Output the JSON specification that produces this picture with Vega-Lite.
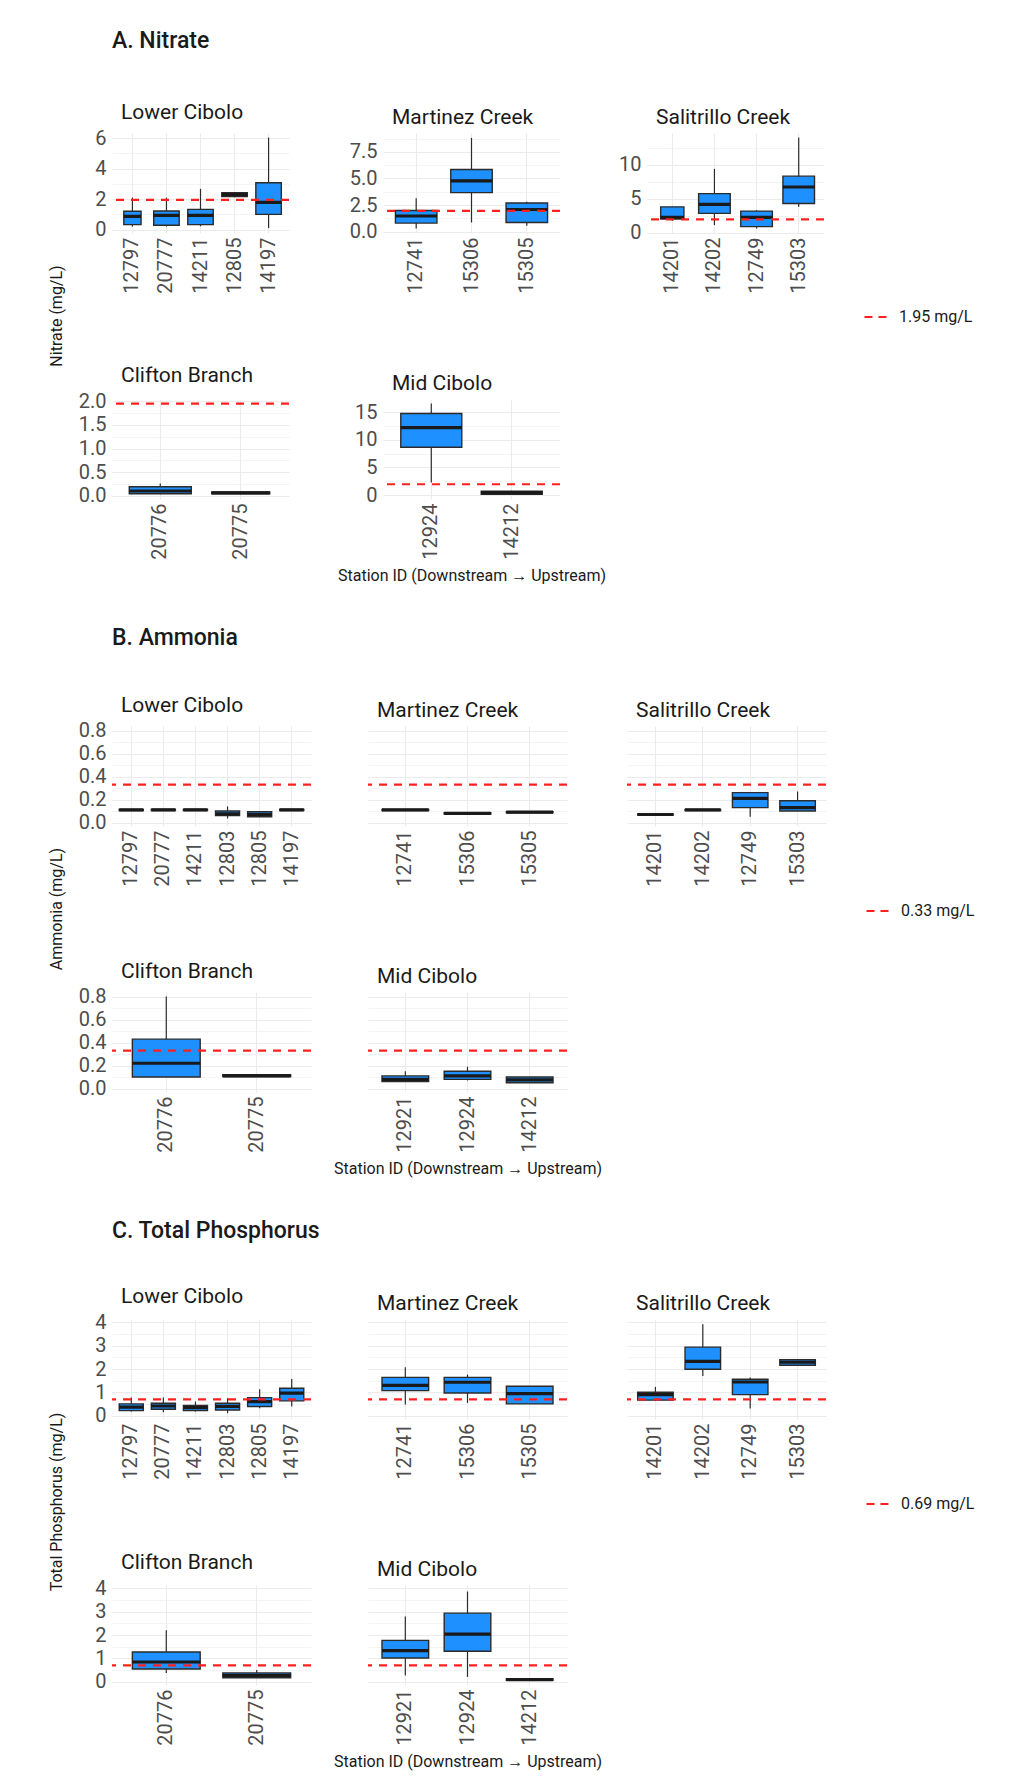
{
  "$schema": "https://vega.github.io/schema/vega-lite/v6.json",
  "background": "white",
  "padding": {"left": 48, "top": 30, "right": 10, "bottom": 0},
  "datasets": {
    "nitrate": [
      {"region": "Lower Cibolo", "station": "12797", "min": 0.2, "q1": 0.33, "median": 0.87, "q3": 1.2, "max": 2.1, "n": 11},
      {"region": "Lower Cibolo", "station": "20777", "min": 0.2, "q1": 0.29, "median": 0.93, "q3": 1.22, "max": 2.1, "n": 24},
      {"region": "Lower Cibolo", "station": "14211", "min": 0.22, "q1": 0.33, "median": 0.93, "q3": 1.33, "max": 2.67, "n": 24},
      {"region": "Lower Cibolo", "station": "12805", "min": 2.12, "q1": 2.16, "median": 2.3, "q3": 2.42, "max": 2.45, "n": 24},
      {"region": "Lower Cibolo", "station": "14197", "min": 0.1, "q1": 1.0, "median": 1.78, "q3": 3.07, "max": 6.03, "n": 24},
      {"region": "Martinez Creek", "station": "12741", "min": 0.3, "q1": 0.8, "median": 1.47, "q3": 1.99, "max": 3.15, "n": 24},
      {"region": "Martinez Creek", "station": "15306", "min": 0.86, "q1": 3.67, "median": 4.78, "q3": 5.85, "max": 8.82, "n": 24},
      {"region": "Martinez Creek", "station": "15305", "min": 0.55, "q1": 0.86, "median": 2.08, "q3": 2.69, "max": 2.8, "n": 24},
      {"region": "Salitrillo Creek", "station": "14201", "min": 1.75, "q1": 2.0, "median": 2.25, "q3": 3.8, "max": 3.85, "n": 13},
      {"region": "Salitrillo Creek", "station": "14202", "min": 1.1, "q1": 2.83, "median": 4.15, "q3": 5.76, "max": 9.41, "n": 24},
      {"region": "Salitrillo Creek", "station": "12749", "min": 0.6, "q1": 0.88, "median": 2.24, "q3": 3.17, "max": 3.3, "n": 24},
      {"region": "Salitrillo Creek", "station": "15303", "min": 3.8, "q1": 4.29, "median": 6.73, "q3": 8.34, "max": 14.05, "n": 24},
      {"region": "Clifton Branch", "station": "20776", "min": 0.03, "q1": 0.04, "median": 0.1, "q3": 0.19, "max": 0.26, "n": 24},
      {"region": "Clifton Branch", "station": "20775", "min": 0.03, "q1": 0.04, "median": 0.06, "q3": 0.08, "max": 0.08, "n": 21},
      {"region": "Mid Cibolo", "station": "12924", "min": 2.26, "q1": 8.63, "median": 12.2, "q3": 14.76, "max": 16.55, "n": 24},
      {"region": "Mid Cibolo", "station": "14212", "min": 0.1, "q1": 0.15, "median": 0.42, "q3": 0.7, "max": 0.75, "n": 24}
    ],
    "ammonia": [
      {"region": "Lower Cibolo", "station": "12797", "min": 0.105, "q1": 0.105, "median": 0.11, "q3": 0.115, "max": 0.115},
      {"region": "Lower Cibolo", "station": "20777", "min": 0.105, "q1": 0.105, "median": 0.11, "q3": 0.115, "max": 0.115},
      {"region": "Lower Cibolo", "station": "14211", "min": 0.105, "q1": 0.105, "median": 0.11, "q3": 0.115, "max": 0.115},
      {"region": "Lower Cibolo", "station": "12803", "min": 0.035, "q1": 0.06, "median": 0.075, "q3": 0.1, "max": 0.14},
      {"region": "Lower Cibolo", "station": "12805", "min": 0.05, "q1": 0.05, "median": 0.07, "q3": 0.094, "max": 0.094},
      {"region": "Lower Cibolo", "station": "14197", "min": 0.105, "q1": 0.105, "median": 0.11, "q3": 0.115, "max": 0.115},
      {"region": "Martinez Creek", "station": "12741", "min": 0.105, "q1": 0.105, "median": 0.11, "q3": 0.115, "max": 0.115},
      {"region": "Martinez Creek", "station": "15306", "min": 0.075, "q1": 0.075, "median": 0.08, "q3": 0.085, "max": 0.085},
      {"region": "Martinez Creek", "station": "15305", "min": 0.085, "q1": 0.085, "median": 0.09, "q3": 0.095, "max": 0.095},
      {"region": "Salitrillo Creek", "station": "14201", "min": 0.065, "q1": 0.065, "median": 0.07, "q3": 0.075, "max": 0.075},
      {"region": "Salitrillo Creek", "station": "14202", "min": 0.105, "q1": 0.105, "median": 0.11, "q3": 0.115, "max": 0.115},
      {"region": "Salitrillo Creek", "station": "12749", "min": 0.05, "q1": 0.13, "median": 0.21, "q3": 0.26, "max": 0.26},
      {"region": "Salitrillo Creek", "station": "15303", "min": 0.1, "q1": 0.1, "median": 0.13, "q3": 0.19, "max": 0.27},
      {"region": "Clifton Branch", "station": "20776", "min": 0.1, "q1": 0.1, "median": 0.22, "q3": 0.43, "max": 0.8},
      {"region": "Clifton Branch", "station": "20775", "min": 0.105, "q1": 0.105, "median": 0.11, "q3": 0.12, "max": 0.12},
      {"region": "Mid Cibolo", "station": "12921", "min": 0.06, "q1": 0.06, "median": 0.08, "q3": 0.11, "max": 0.15},
      {"region": "Mid Cibolo", "station": "12924", "min": 0.07, "q1": 0.08, "median": 0.11, "q3": 0.15, "max": 0.19},
      {"region": "Mid Cibolo", "station": "14212", "min": 0.05, "q1": 0.05, "median": 0.075, "q3": 0.1, "max": 0.1}
    ],
    "phosphorus": [
      {"region": "Lower Cibolo", "station": "12797", "min": 0.17, "q1": 0.21, "median": 0.36, "q3": 0.5, "max": 0.77},
      {"region": "Lower Cibolo", "station": "20777", "min": 0.14, "q1": 0.27, "median": 0.41, "q3": 0.53, "max": 0.77},
      {"region": "Lower Cibolo", "station": "14211", "min": 0.17, "q1": 0.21, "median": 0.34, "q3": 0.43, "max": 0.6},
      {"region": "Lower Cibolo", "station": "12803", "min": 0.1, "q1": 0.24, "median": 0.39, "q3": 0.53, "max": 0.74},
      {"region": "Lower Cibolo", "station": "12805", "min": 0.31, "q1": 0.39, "median": 0.6, "q3": 0.77, "max": 1.13},
      {"region": "Lower Cibolo", "station": "14197", "min": 0.39, "q1": 0.63, "median": 0.96, "q3": 1.17, "max": 1.57},
      {"region": "Martinez Creek", "station": "12741", "min": 0.47, "q1": 1.07, "median": 1.3, "q3": 1.64, "max": 2.07},
      {"region": "Martinez Creek", "station": "15306", "min": 0.54, "q1": 0.97, "median": 1.43, "q3": 1.64, "max": 1.76},
      {"region": "Martinez Creek", "station": "15305", "min": 0.5, "q1": 0.5, "median": 0.94, "q3": 1.26, "max": 1.26},
      {"region": "Salitrillo Creek", "station": "14201", "min": 0.63, "q1": 0.66, "median": 0.9, "q3": 1.0, "max": 1.23},
      {"region": "Salitrillo Creek", "station": "14202", "min": 1.7, "q1": 1.99, "median": 2.33, "q3": 2.94, "max": 3.92},
      {"region": "Salitrillo Creek", "station": "12749", "min": 0.3, "q1": 0.9, "median": 1.44, "q3": 1.56, "max": 1.63},
      {"region": "Salitrillo Creek", "station": "15303", "min": 2.16, "q1": 2.16, "median": 2.29, "q3": 2.4, "max": 2.4},
      {"region": "Clifton Branch", "station": "20776", "min": 0.37, "q1": 0.54, "median": 0.84, "q3": 1.27, "max": 2.2},
      {"region": "Clifton Branch", "station": "20775", "min": 0.16, "q1": 0.16, "median": 0.26, "q3": 0.37, "max": 0.5},
      {"region": "Mid Cibolo", "station": "12921", "min": 0.26, "q1": 1.01, "median": 1.33, "q3": 1.77, "max": 2.8},
      {"region": "Mid Cibolo", "station": "12924", "min": 0.2, "q1": 1.3, "median": 2.04, "q3": 2.94, "max": 3.87},
      {"region": "Mid Cibolo", "station": "14212", "min": 0.05, "q1": 0.05, "median": 0.08, "q3": 0.12, "max": 0.12}
    ],
    "limits": [
      {"parameter": "Nitrate", "value": 1.95, "label": "1.95 mg/L"},
      {"parameter": "Ammonia", "value": 0.33, "label": "0.33 mg/L"},
      {"parameter": "Total Phosphorus", "value": 0.69, "label": "0.69 mg/L"}
    ]
  },
  "spacing": 0,
  "resolve": {"scale": {"color": "independent", "size": "independent"}},
  "vconcat": [
    {
      "columns": 5, "align": "each", "bounds": "flush", "spacing": 0,
      "resolve": {"scale": {"color": "independent", "size": "independent"}},
      "concat": [
        {"width": 1, "height": 100, "title": {"text": "A. Nitrate", "orient": "bottom", "offset": -103, "fontSize": 23, "fontWeight": 500, "dx": 0}, "data": {"values": []}, "mark": {"type": "point", "opacity": 0}},
        {"width": 1, "height": 100, "data": {"values": []}, "mark": {"type": "point", "opacity": 0}},
        {"width": 1, "height": 100, "data": {"values": []}, "mark": {"type": "point", "opacity": 0}},
        {"width": 1, "height": 100, "data": {"values": []}, "mark": {"type": "point", "opacity": 0}},
        {"width": 1, "height": 100, "data": {"values": []}, "mark": {"type": "point", "opacity": 0}},

        {
          "width": 177, "height": 100,
          "title": {"text": "Lower Cibolo"},
          "resolve": {"axis": {"y": "independent"}},
          "layer": [
            {
              "data": {"name": "nitrate"},
              "transform": [{"filter": "datum.region === 'Lower Cibolo'"}],
              "encoding": {"x": {"field": "station", "type": "nominal", "sort": null, "scale": {"paddingInner": 0, "paddingOuter": 0.1}, "axis": {"title": null, "labelAngle": -90, "grid": true, "bandPosition": 0.5, "labelPadding": 4}}},
              "layer": [
                {"mark": {"type": "rule", "color": "#2b2b2b", "strokeWidth": 1.2},
                 "encoding": {"y": {"field": "min", "type": "quantitative", "scale": {"domain": [-0.22, 6.33], "nice": false, "zero": false},
                   "axis": {"values": [0, 2, 4, 6], "tickCount": 20, "format": "d", "labelOverlap": false, "title": null}},
                   "y2": {"field": "max"}}},
                {"mark": {"type": "bar", "fill": "#1E90FF", "stroke": "#2b2b2b", "strokeWidth": 1.4},
                 "encoding": {"y": {"field": "q1", "type": "quantitative", "scale": {"domain": [-0.22, 6.33], "nice": false, "zero": false}}, "y2": {"field": "q3"},
                   "size": {"field": "n", "type": "quantitative", "scale": {"type": "sqrt", "domain": [0, 24], "range": [0, 25.5]}, "legend": null}}},
                {"mark": {"type": "bar", "fill": "#1a1a1a", "stroke": "#1a1a1a", "strokeWidth": 3.2},
                 "encoding": {"y": {"field": "median", "type": "quantitative", "scale": {"domain": [-0.22, 6.33], "nice": false, "zero": false}}, "y2": {"field": "median"},
                   "size": {"field": "n", "type": "quantitative", "scale": {"type": "sqrt", "domain": [0, 24], "range": [0, 25.5]}, "legend": null}}}
              ]
            },
            {
              "data": {"name": "limits"},
              "transform": [{"filter": "datum.parameter === 'Nitrate'"}],
              "mark": {"type": "rule", "color": "#FF1F1F", "strokeDash": [8, 7], "strokeWidth": 2.2},
              "encoding": {"y": {"field": "value", "type": "quantitative", "scale": {"domain": [-0.22, 6.33], "nice": false, "zero": false},
                "axis": {"orient": "right", "values": [1, 3, 5], "tickCount": 20, "labels": false, "grid": true, "gridWidth": 0.55, "title": null}}}
            }
          ]
        },
        {"width": 94, "height": 100, "data": {"values": []}, "mark": {"type": "point", "opacity": 0}},
        {
          "width": 177, "height": 100,
          "title": {"text": "Martinez Creek"},
          "resolve": {"axis": {"y": "independent"}},
          "layer": [
            {
              "data": {"name": "nitrate"},
              "transform": [{"filter": "datum.region === 'Martinez Creek'"}],
              "encoding": {"x": {"field": "station", "type": "nominal", "sort": null, "scale": {"paddingInner": 0, "paddingOuter": 0.1}, "axis": {"title": null, "labelAngle": -90, "grid": true, "bandPosition": 0.5, "labelPadding": 4}}},
              "layer": [
                {"mark": {"type": "rule", "color": "#2b2b2b", "strokeWidth": 1.2},
                 "encoding": {"y": {"field": "min", "type": "quantitative", "scale": {"domain": [-0.13, 9.28], "nice": false, "zero": false},
                   "axis": {"values": [0, 2.5, 5, 7.5], "tickCount": 20, "format": ".1f", "labelOverlap": false, "title": null}},
                   "y2": {"field": "max"}}},
                {"mark": {"type": "bar", "fill": "#1E90FF", "stroke": "#2b2b2b", "strokeWidth": 1.4},
                 "encoding": {"y": {"field": "q1", "type": "quantitative", "scale": {"domain": [-0.13, 9.28], "nice": false, "zero": false}}, "y2": {"field": "q3"},
                   "size": {"field": "n", "type": "quantitative", "scale": {"type": "sqrt", "domain": [0, 24], "range": [0, 41.5]}, "legend": null}}},
                {"mark": {"type": "bar", "fill": "#1a1a1a", "stroke": "#1a1a1a", "strokeWidth": 3.2},
                 "encoding": {"y": {"field": "median", "type": "quantitative", "scale": {"domain": [-0.13, 9.28], "nice": false, "zero": false}}, "y2": {"field": "median"},
                   "size": {"field": "n", "type": "quantitative", "scale": {"type": "sqrt", "domain": [0, 24], "range": [0, 41.5]}, "legend": null}}}
              ]
            },
            {
              "data": {"name": "limits"},
              "transform": [{"filter": "datum.parameter === 'Nitrate'"}],
              "mark": {"type": "rule", "color": "#FF1F1F", "strokeDash": [8, 7], "strokeWidth": 2.2},
              "encoding": {"y": {"field": "value", "type": "quantitative", "scale": {"domain": [-0.13, 9.28], "nice": false, "zero": false},
                "axis": {"orient": "right", "values": [1.25, 3.75, 6.25, 8.75], "tickCount": 20, "labels": false, "grid": true, "gridWidth": 0.55, "title": null}}}
            }
          ]
        },
        {"width": 87, "height": 100, "data": {"values": []}, "mark": {"type": "point", "opacity": 0}},
        {
          "width": 177, "height": 100,
          "title": {"text": "Salitrillo Creek"},
          "resolve": {"axis": {"y": "independent"}},
          "layer": [
            {
              "data": {"name": "nitrate"},
              "transform": [{"filter": "datum.region === 'Salitrillo Creek'"}],
              "encoding": {"x": {"field": "station", "type": "nominal", "sort": null, "scale": {"paddingInner": 0, "paddingOuter": 0.1}, "axis": {"title": null, "labelAngle": -90, "grid": true, "bandPosition": 0.5, "labelPadding": 4}}},
              "layer": [
                {"mark": {"type": "rule", "color": "#2b2b2b", "strokeWidth": 1.2},
                 "encoding": {"y": {"field": "min", "type": "quantitative", "scale": {"domain": [-0.07, 14.72], "nice": false, "zero": false},
                   "axis": {"values": [0, 5, 10], "tickCount": 20, "format": "d", "labelOverlap": false, "title": null}},
                   "y2": {"field": "max"}}},
                {"mark": {"type": "bar", "fill": "#1E90FF", "stroke": "#2b2b2b", "strokeWidth": 1.4},
                 "encoding": {"y": {"field": "q1", "type": "quantitative", "scale": {"domain": [-0.07, 14.72], "nice": false, "zero": false}}, "y2": {"field": "q3"},
                   "size": {"field": "n", "type": "quantitative", "scale": {"type": "sqrt", "domain": [0, 24], "range": [0, 31.6]}, "legend": null}}},
                {"mark": {"type": "bar", "fill": "#1a1a1a", "stroke": "#1a1a1a", "strokeWidth": 3.2},
                 "encoding": {"y": {"field": "median", "type": "quantitative", "scale": {"domain": [-0.07, 14.72], "nice": false, "zero": false}}, "y2": {"field": "median"},
                   "size": {"field": "n", "type": "quantitative", "scale": {"type": "sqrt", "domain": [0, 24], "range": [0, 31.6]}, "legend": null}}}
              ]
            },
            {
              "data": {"name": "limits"},
              "transform": [{"filter": "datum.parameter === 'Nitrate'"}],
              "mark": {"type": "rule", "strokeDash": [8, 7], "strokeWidth": 2.2},
              "encoding": {
                "y": {"field": "value", "type": "quantitative", "scale": {"domain": [-0.07, 14.72], "nice": false, "zero": false},
                  "axis": {"orient": "right", "values": [2.5, 7.5, 12.5], "tickCount": 20, "labels": false, "grid": true, "gridWidth": 0.55, "title": null}},
                "color": {"field": "label", "type": "nominal", "scale": {"range": ["#FF1F1F"]},
                  "legend": {"title": null, "orient": "none", "legendX": 216, "legendY": 170, "symbolType": "stroke", "symbolStrokeWidth": 2.2, "symbolDash": [8, 6], "symbolSize": 625, "labelOffset": 8}}
              }
            }
          ]
        },

        {"width": 1, "height": 166, "title": {"text": "Nitrate (mg/L)", "orient": "left", "anchor": "middle", "offset": 47, "fontSize": 16, "dx": 0}, "data": {"values": []}, "mark": {"type": "point", "opacity": 0}},
        {"width": 1, "height": 166, "data": {"values": []}, "mark": {"type": "point", "opacity": 0}},
        {"width": 1, "height": 166, "data": {"values": []}, "mark": {"type": "point", "opacity": 0}},
        {"width": 1, "height": 166, "data": {"values": []}, "mark": {"type": "point", "opacity": 0}},
        {"width": 1, "height": 166, "data": {"values": []}, "mark": {"type": "point", "opacity": 0}},

        {
          "width": 177, "height": 100,
          "title": {"text": "Clifton Branch"},
          "resolve": {"axis": {"y": "independent"}},
          "layer": [
            {
              "data": {"name": "nitrate"},
              "transform": [{"filter": "datum.region === 'Clifton Branch'"}],
              "encoding": {"x": {"field": "station", "type": "nominal", "sort": null, "scale": {"paddingInner": 0, "paddingOuter": 0.1}, "axis": {"title": null, "labelAngle": -90, "grid": true, "bandPosition": 0.5, "labelPadding": 4}}},
              "layer": [
                {"mark": {"type": "rule", "color": "#2b2b2b", "strokeWidth": 1.2},
                 "encoding": {"y": {"field": "min", "type": "quantitative", "scale": {"domain": [-0.07, 2.05], "nice": false, "zero": false},
                   "axis": {"values": [0, 0.5, 1, 1.5, 2], "tickCount": 20, "format": ".1f", "labelOverlap": false, "title": null}},
                   "y2": {"field": "max"}}},
                {"mark": {"type": "bar", "fill": "#1E90FF", "stroke": "#2b2b2b", "strokeWidth": 1.4},
                 "encoding": {"y": {"field": "q1", "type": "quantitative", "scale": {"domain": [-0.07, 2.05], "nice": false, "zero": false}}, "y2": {"field": "q3"},
                   "size": {"field": "n", "type": "quantitative", "scale": {"type": "sqrt", "domain": [0, 24], "range": [0, 62]}, "legend": null}}},
                {"mark": {"type": "bar", "fill": "#1a1a1a", "stroke": "#1a1a1a", "strokeWidth": 3.2},
                 "encoding": {"y": {"field": "median", "type": "quantitative", "scale": {"domain": [-0.07, 2.05], "nice": false, "zero": false}}, "y2": {"field": "median"},
                   "size": {"field": "n", "type": "quantitative", "scale": {"type": "sqrt", "domain": [0, 24], "range": [0, 62]}, "legend": null}}}
              ]
            },
            {
              "data": {"name": "limits"},
              "transform": [{"filter": "datum.parameter === 'Nitrate'"}],
              "mark": {"type": "rule", "color": "#FF1F1F", "strokeDash": [8, 7], "strokeWidth": 2.2},
              "encoding": {"y": {"field": "value", "type": "quantitative", "scale": {"domain": [-0.07, 2.05], "nice": false, "zero": false},
                "axis": {"orient": "right", "values": [0.25, 0.75, 1.25, 1.75], "tickCount": 20, "labels": false, "grid": true, "gridWidth": 0.55, "title": null}}}
            }
          ]
        },
        {"width": 94, "height": 100, "data": {"values": []}, "mark": {"type": "point", "opacity": 0}},
        {
          "width": 177, "height": 100,
          "title": {"text": "Mid Cibolo"},
          "resolve": {"axis": {"y": "independent"}},
          "layer": [
            {
              "data": {"name": "nitrate"},
              "transform": [{"filter": "datum.region === 'Mid Cibolo'"}],
              "encoding": {"x": {"field": "station", "type": "nominal", "sort": null, "scale": {"paddingInner": 0, "paddingOuter": 0.1}, "axis": {"title": "Station ID (Downstream → Upstream)", "titlePadding": 8, "labelAngle": -90, "grid": true, "bandPosition": 0.5, "labelPadding": 4}}},
              "layer": [
                {"mark": {"type": "rule", "color": "#2b2b2b", "strokeWidth": 1.2},
                 "encoding": {"y": {"field": "min", "type": "quantitative", "scale": {"domain": [-0.72, 17.37], "nice": false, "zero": false},
                   "axis": {"values": [0, 5, 10, 15], "tickCount": 20, "format": "d", "labelOverlap": false, "title": null}},
                   "y2": {"field": "max"}}},
                {"mark": {"type": "bar", "fill": "#1E90FF", "stroke": "#2b2b2b", "strokeWidth": 1.4},
                 "encoding": {"y": {"field": "q1", "type": "quantitative", "scale": {"domain": [-0.72, 17.37], "nice": false, "zero": false}}, "y2": {"field": "q3"},
                   "size": {"field": "n", "type": "quantitative", "scale": {"type": "sqrt", "domain": [0, 24], "range": [0, 61]}, "legend": null}}},
                {"mark": {"type": "bar", "fill": "#1a1a1a", "stroke": "#1a1a1a", "strokeWidth": 3.2},
                 "encoding": {"y": {"field": "median", "type": "quantitative", "scale": {"domain": [-0.72, 17.37], "nice": false, "zero": false}}, "y2": {"field": "median"},
                   "size": {"field": "n", "type": "quantitative", "scale": {"type": "sqrt", "domain": [0, 24], "range": [0, 61]}, "legend": null}}}
              ]
            },
            {
              "data": {"name": "limits"},
              "transform": [{"filter": "datum.parameter === 'Nitrate'"}],
              "mark": {"type": "rule", "color": "#FF1F1F", "strokeDash": [8, 7], "strokeWidth": 2.2},
              "encoding": {"y": {"field": "value", "type": "quantitative", "scale": {"domain": [-0.72, 17.37], "nice": false, "zero": false},
                "axis": {"orient": "right", "values": [2.5, 7.5, 12.5], "tickCount": 20, "labels": false, "grid": true, "gridWidth": 0.55, "title": null}}}
            }
          ]
        },
        {"width": 87, "height": 100, "data": {"values": []}, "mark": {"type": "point", "opacity": 0}},
        {"width": 1, "height": 100, "data": {"values": []}, "mark": {"type": "point", "opacity": 0}},

        {"width": 1, "height": 100, "data": {"values": []}, "mark": {"type": "point", "opacity": 0}},
        {"width": 1, "height": 100, "data": {"values": []}, "mark": {"type": "point", "opacity": 0}},
        {"width": 1, "height": 100, "data": {"values": []}, "mark": {"type": "point", "opacity": 0}},
        {"width": 1, "height": 100, "data": {"values": []}, "mark": {"type": "point", "opacity": 0}},
        {"width": 1, "height": 100, "data": {"values": []}, "mark": {"type": "point", "opacity": 0}}
      ]
    },
    {
      "columns": 5, "align": "each", "bounds": "flush", "spacing": 0,
      "resolve": {"scale": {"color": "independent", "size": "independent"}},
      "concat": [
        {"width": 1, "height": 127, "title": {"text": "B. Ammonia", "orient": "bottom", "offset": -99, "fontSize": 23, "fontWeight": 500, "dx": 0}, "data": {"values": []}, "mark": {"type": "point", "opacity": 0}},
        {"width": 1, "height": 127, "data": {"values": []}, "mark": {"type": "point", "opacity": 0}},
        {"width": 1, "height": 127, "data": {"values": []}, "mark": {"type": "point", "opacity": 0}},
        {"width": 1, "height": 127, "data": {"values": []}, "mark": {"type": "point", "opacity": 0}},
        {"width": 1, "height": 127, "data": {"values": []}, "mark": {"type": "point", "opacity": 0}},

        {
          "width": 199, "height": 100,
          "title": {"text": "Lower Cibolo"},
          "resolve": {"axis": {"y": "independent"}},
          "layer": [
            {
              "data": {"name": "ammonia"},
              "transform": [{"filter": "datum.region === 'Lower Cibolo'"}],
              "encoding": {"x": {"field": "station", "type": "nominal", "sort": null, "scale": {"paddingInner": 0, "paddingOuter": 0.1}, "axis": {"title": null, "labelAngle": -90, "grid": true, "bandPosition": 0.5, "labelPadding": 4}}},
              "layer": [
                {"mark": {"type": "rule", "color": "#2b2b2b", "strokeWidth": 1.2},
                 "encoding": {"y": {"field": "min", "type": "quantitative", "scale": {"domain": [-0.03, 0.84], "nice": false, "zero": false},
                   "axis": {"values": [0, 0.2, 0.4, 0.6, 0.8], "tickCount": 20, "format": ".1f", "labelOverlap": false, "title": null}},
                   "y2": {"field": "max"}}},
                {"mark": {"type": "bar", "width": {"band": 0.75}, "fill": "#1E90FF", "stroke": "#2b2b2b", "strokeWidth": 1.4},
                 "encoding": {"y": {"field": "q1", "type": "quantitative", "scale": {"domain": [-0.03, 0.84], "nice": false, "zero": false}}, "y2": {"field": "q3"}}},
                {"mark": {"type": "bar", "width": {"band": 0.75}, "fill": "#1a1a1a", "stroke": "#1a1a1a", "strokeWidth": 3.2},
                 "encoding": {"y": {"field": "median", "type": "quantitative", "scale": {"domain": [-0.03, 0.84], "nice": false, "zero": false}}, "y2": {"field": "median"}}}
              ]
            },
            {
              "data": {"name": "limits"},
              "transform": [{"filter": "datum.parameter === 'Ammonia'"}],
              "mark": {"type": "rule", "color": "#FF1F1F", "strokeDash": [8, 7], "strokeWidth": 2.2},
              "encoding": {"y": {"field": "value", "type": "quantitative", "scale": {"domain": [-0.03, 0.84], "nice": false, "zero": false},
                "axis": {"orient": "right", "values": [0.1, 0.3, 0.5, 0.7], "tickCount": 20, "labels": false, "grid": true, "gridWidth": 0.55, "title": null}}}
            }
          ]
        },
        {"width": 57, "height": 100, "data": {"values": []}, "mark": {"type": "point", "opacity": 0}},
        {
          "width": 199, "height": 100,
          "title": {"text": "Martinez Creek"},
          "resolve": {"axis": {"y": "independent"}},
          "layer": [
            {
              "data": {"name": "ammonia"},
              "transform": [{"filter": "datum.region === 'Martinez Creek'"}],
              "encoding": {"x": {"field": "station", "type": "nominal", "sort": null, "scale": {"paddingInner": 0, "paddingOuter": 0.1}, "axis": {"title": null, "labelAngle": -90, "grid": true, "bandPosition": 0.5, "labelPadding": 4}}},
              "layer": [
                {"mark": {"type": "rule", "color": "#2b2b2b", "strokeWidth": 1.2},
                 "encoding": {"y": {"field": "min", "type": "quantitative", "scale": {"domain": [-0.03, 0.84], "nice": false, "zero": false},
                   "axis": {"values": [0, 0.2, 0.4, 0.6, 0.8], "tickCount": 20, "labels": false, "title": null}},
                   "y2": {"field": "max"}}},
                {"mark": {"type": "bar", "width": {"band": 0.75}, "fill": "#1E90FF", "stroke": "#2b2b2b", "strokeWidth": 1.4},
                 "encoding": {"y": {"field": "q1", "type": "quantitative", "scale": {"domain": [-0.03, 0.84], "nice": false, "zero": false}}, "y2": {"field": "q3"}}},
                {"mark": {"type": "bar", "width": {"band": 0.75}, "fill": "#1a1a1a", "stroke": "#1a1a1a", "strokeWidth": 3.2},
                 "encoding": {"y": {"field": "median", "type": "quantitative", "scale": {"domain": [-0.03, 0.84], "nice": false, "zero": false}}, "y2": {"field": "median"}}}
              ]
            },
            {
              "data": {"name": "limits"},
              "transform": [{"filter": "datum.parameter === 'Ammonia'"}],
              "mark": {"type": "rule", "color": "#FF1F1F", "strokeDash": [8, 7], "strokeWidth": 2.2},
              "encoding": {"y": {"field": "value", "type": "quantitative", "scale": {"domain": [-0.03, 0.84], "nice": false, "zero": false},
                "axis": {"orient": "right", "values": [0.1, 0.3, 0.5, 0.7], "tickCount": 20, "labels": false, "grid": true, "gridWidth": 0.55, "title": null}}}
            }
          ]
        },
        {"width": 60, "height": 100, "data": {"values": []}, "mark": {"type": "point", "opacity": 0}},
        {
          "width": 199, "height": 100,
          "title": {"text": "Salitrillo Creek"},
          "resolve": {"axis": {"y": "independent"}},
          "layer": [
            {
              "data": {"name": "ammonia"},
              "transform": [{"filter": "datum.region === 'Salitrillo Creek'"}],
              "encoding": {"x": {"field": "station", "type": "nominal", "sort": null, "scale": {"paddingInner": 0, "paddingOuter": 0.1}, "axis": {"title": null, "labelAngle": -90, "grid": true, "bandPosition": 0.5, "labelPadding": 4}}},
              "layer": [
                {"mark": {"type": "rule", "color": "#2b2b2b", "strokeWidth": 1.2},
                 "encoding": {"y": {"field": "min", "type": "quantitative", "scale": {"domain": [-0.03, 0.84], "nice": false, "zero": false},
                   "axis": {"values": [0, 0.2, 0.4, 0.6, 0.8], "tickCount": 20, "labels": false, "title": null}},
                   "y2": {"field": "max"}}},
                {"mark": {"type": "bar", "width": {"band": 0.75}, "fill": "#1E90FF", "stroke": "#2b2b2b", "strokeWidth": 1.4},
                 "encoding": {"y": {"field": "q1", "type": "quantitative", "scale": {"domain": [-0.03, 0.84], "nice": false, "zero": false}}, "y2": {"field": "q3"}}},
                {"mark": {"type": "bar", "width": {"band": 0.75}, "fill": "#1a1a1a", "stroke": "#1a1a1a", "strokeWidth": 3.2},
                 "encoding": {"y": {"field": "median", "type": "quantitative", "scale": {"domain": [-0.03, 0.84], "nice": false, "zero": false}}, "y2": {"field": "median"}}}
              ]
            },
            {
              "data": {"name": "limits"},
              "transform": [{"filter": "datum.parameter === 'Ammonia'"}],
              "mark": {"type": "rule", "strokeDash": [8, 7], "strokeWidth": 2.2},
              "encoding": {
                "y": {"field": "value", "type": "quantitative", "scale": {"domain": [-0.03, 0.84], "nice": false, "zero": false},
                  "axis": {"orient": "right", "values": [0.1, 0.3, 0.5, 0.7], "tickCount": 20, "labels": false, "grid": true, "gridWidth": 0.55, "title": null}},
                "color": {"field": "label", "type": "nominal", "scale": {"range": ["#FF1F1F"]},
                  "legend": {"title": null, "orient": "none", "legendX": 238, "legendY": 171, "symbolType": "stroke", "symbolStrokeWidth": 2.2, "symbolDash": [8, 6], "symbolSize": 625, "labelOffset": 8}}
              }
            }
          ]
        },

        {"width": 1, "height": 166, "title": {"text": "Ammonia (mg/L)", "orient": "left", "anchor": "middle", "offset": 47, "fontSize": 16, "dx": 0}, "data": {"values": []}, "mark": {"type": "point", "opacity": 0}},
        {"width": 1, "height": 166, "data": {"values": []}, "mark": {"type": "point", "opacity": 0}},
        {"width": 1, "height": 166, "data": {"values": []}, "mark": {"type": "point", "opacity": 0}},
        {"width": 1, "height": 166, "data": {"values": []}, "mark": {"type": "point", "opacity": 0}},
        {"width": 1, "height": 166, "data": {"values": []}, "mark": {"type": "point", "opacity": 0}},

        {
          "width": 199, "height": 100,
          "title": {"text": "Clifton Branch"},
          "resolve": {"axis": {"y": "independent"}},
          "layer": [
            {
              "data": {"name": "ammonia"},
              "transform": [{"filter": "datum.region === 'Clifton Branch'"}],
              "encoding": {"x": {"field": "station", "type": "nominal", "sort": null, "scale": {"paddingInner": 0, "paddingOuter": 0.1}, "axis": {"title": null, "labelAngle": -90, "grid": true, "bandPosition": 0.5, "labelPadding": 4}}},
              "layer": [
                {"mark": {"type": "rule", "color": "#2b2b2b", "strokeWidth": 1.2},
                 "encoding": {"y": {"field": "min", "type": "quantitative", "scale": {"domain": [-0.03, 0.84], "nice": false, "zero": false},
                   "axis": {"values": [0, 0.2, 0.4, 0.6, 0.8], "tickCount": 20, "format": ".1f", "labelOverlap": false, "title": null}},
                   "y2": {"field": "max"}}},
                {"mark": {"type": "bar", "width": {"band": 0.75}, "fill": "#1E90FF", "stroke": "#2b2b2b", "strokeWidth": 1.4},
                 "encoding": {"y": {"field": "q1", "type": "quantitative", "scale": {"domain": [-0.03, 0.84], "nice": false, "zero": false}}, "y2": {"field": "q3"}}},
                {"mark": {"type": "bar", "width": {"band": 0.75}, "fill": "#1a1a1a", "stroke": "#1a1a1a", "strokeWidth": 3.2},
                 "encoding": {"y": {"field": "median", "type": "quantitative", "scale": {"domain": [-0.03, 0.84], "nice": false, "zero": false}}, "y2": {"field": "median"}}}
              ]
            },
            {
              "data": {"name": "limits"},
              "transform": [{"filter": "datum.parameter === 'Ammonia'"}],
              "mark": {"type": "rule", "color": "#FF1F1F", "strokeDash": [8, 7], "strokeWidth": 2.2},
              "encoding": {"y": {"field": "value", "type": "quantitative", "scale": {"domain": [-0.03, 0.84], "nice": false, "zero": false},
                "axis": {"orient": "right", "values": [0.1, 0.3, 0.5, 0.7], "tickCount": 20, "labels": false, "grid": true, "gridWidth": 0.55, "title": null}}}
            }
          ]
        },
        {"width": 57, "height": 100, "data": {"values": []}, "mark": {"type": "point", "opacity": 0}},
        {
          "width": 199, "height": 100,
          "title": {"text": "Mid Cibolo"},
          "resolve": {"axis": {"y": "independent"}},
          "layer": [
            {
              "data": {"name": "ammonia"},
              "transform": [{"filter": "datum.region === 'Mid Cibolo'"}],
              "encoding": {"x": {"field": "station", "type": "nominal", "sort": null, "scale": {"paddingInner": 0, "paddingOuter": 0.1}, "axis": {"title": "Station ID (Downstream → Upstream)", "titlePadding": 8, "labelAngle": -90, "grid": true, "bandPosition": 0.5, "labelPadding": 4}}},
              "layer": [
                {"mark": {"type": "rule", "color": "#2b2b2b", "strokeWidth": 1.2},
                 "encoding": {"y": {"field": "min", "type": "quantitative", "scale": {"domain": [-0.03, 0.84], "nice": false, "zero": false},
                   "axis": {"values": [0, 0.2, 0.4, 0.6, 0.8], "tickCount": 20, "labels": false, "title": null}},
                   "y2": {"field": "max"}}},
                {"mark": {"type": "bar", "width": {"band": 0.75}, "fill": "#1E90FF", "stroke": "#2b2b2b", "strokeWidth": 1.4},
                 "encoding": {"y": {"field": "q1", "type": "quantitative", "scale": {"domain": [-0.03, 0.84], "nice": false, "zero": false}}, "y2": {"field": "q3"}}},
                {"mark": {"type": "bar", "width": {"band": 0.75}, "fill": "#1a1a1a", "stroke": "#1a1a1a", "strokeWidth": 3.2},
                 "encoding": {"y": {"field": "median", "type": "quantitative", "scale": {"domain": [-0.03, 0.84], "nice": false, "zero": false}}, "y2": {"field": "median"}}}
              ]
            },
            {
              "data": {"name": "limits"},
              "transform": [{"filter": "datum.parameter === 'Ammonia'"}],
              "mark": {"type": "rule", "color": "#FF1F1F", "strokeDash": [8, 7], "strokeWidth": 2.2},
              "encoding": {"y": {"field": "value", "type": "quantitative", "scale": {"domain": [-0.03, 0.84], "nice": false, "zero": false},
                "axis": {"orient": "right", "values": [0.1, 0.3, 0.5, 0.7], "tickCount": 20, "labels": false, "grid": true, "gridWidth": 0.55, "title": null}}}
            }
          ]
        },
        {"width": 60, "height": 100, "data": {"values": []}, "mark": {"type": "point", "opacity": 0}},
        {"width": 1, "height": 100, "data": {"values": []}, "mark": {"type": "point", "opacity": 0}},

        {"width": 1, "height": 100, "data": {"values": []}, "mark": {"type": "point", "opacity": 0}},
        {"width": 1, "height": 100, "data": {"values": []}, "mark": {"type": "point", "opacity": 0}},
        {"width": 1, "height": 100, "data": {"values": []}, "mark": {"type": "point", "opacity": 0}},
        {"width": 1, "height": 100, "data": {"values": []}, "mark": {"type": "point", "opacity": 0}},
        {"width": 1, "height": 100, "data": {"values": []}, "mark": {"type": "point", "opacity": 0}}
      ]
    },
    {
      "columns": 5, "align": "each", "bounds": "flush", "spacing": 0,
      "resolve": {"scale": {"color": "independent", "size": "independent"}},
      "concat": [
        {"width": 1, "height": 127, "title": {"text": "C. Total Phosphorus", "orient": "bottom", "offset": -99, "fontSize": 23, "fontWeight": 500, "dx": 0}, "data": {"values": []}, "mark": {"type": "point", "opacity": 0}},
        {"width": 1, "height": 127, "data": {"values": []}, "mark": {"type": "point", "opacity": 0}},
        {"width": 1, "height": 127, "data": {"values": []}, "mark": {"type": "point", "opacity": 0}},
        {"width": 1, "height": 127, "data": {"values": []}, "mark": {"type": "point", "opacity": 0}},
        {"width": 1, "height": 127, "data": {"values": []}, "mark": {"type": "point", "opacity": 0}},

        {
          "width": 199, "height": 100,
          "title": {"text": "Lower Cibolo"},
          "resolve": {"axis": {"y": "independent"}},
          "layer": [
            {
              "data": {"name": "phosphorus"},
              "transform": [{"filter": "datum.region === 'Lower Cibolo'"}],
              "encoding": {"x": {"field": "station", "type": "nominal", "sort": null, "scale": {"paddingInner": 0, "paddingOuter": 0.1}, "axis": {"title": null, "labelAngle": -90, "grid": true, "bandPosition": 0.5, "labelPadding": 4}}},
              "layer": [
                {"mark": {"type": "rule", "color": "#2b2b2b", "strokeWidth": 1.2},
                 "encoding": {"y": {"field": "min", "type": "quantitative", "scale": {"domain": [-0.15, 4.15], "nice": false, "zero": false},
                   "axis": {"values": [0, 1, 2, 3, 4], "tickCount": 20, "format": "d", "labelOverlap": false, "title": null}},
                   "y2": {"field": "max"}}},
                {"mark": {"type": "bar", "width": {"band": 0.75}, "fill": "#1E90FF", "stroke": "#2b2b2b", "strokeWidth": 1.4},
                 "encoding": {"y": {"field": "q1", "type": "quantitative", "scale": {"domain": [-0.15, 4.15], "nice": false, "zero": false}}, "y2": {"field": "q3"}}},
                {"mark": {"type": "bar", "width": {"band": 0.75}, "fill": "#1a1a1a", "stroke": "#1a1a1a", "strokeWidth": 3.2},
                 "encoding": {"y": {"field": "median", "type": "quantitative", "scale": {"domain": [-0.15, 4.15], "nice": false, "zero": false}}, "y2": {"field": "median"}}}
              ]
            },
            {
              "data": {"name": "limits"},
              "transform": [{"filter": "datum.parameter === 'Total Phosphorus'"}],
              "mark": {"type": "rule", "color": "#FF1F1F", "strokeDash": [8, 7], "strokeWidth": 2.2},
              "encoding": {"y": {"field": "value", "type": "quantitative", "scale": {"domain": [-0.15, 4.15], "nice": false, "zero": false},
                "axis": {"orient": "right", "values": [0.5, 1.5, 2.5, 3.5], "tickCount": 20, "labels": false, "grid": true, "gridWidth": 0.55, "title": null}}}
            }
          ]
        },
        {"width": 57, "height": 100, "data": {"values": []}, "mark": {"type": "point", "opacity": 0}},
        {
          "width": 199, "height": 100,
          "title": {"text": "Martinez Creek"},
          "resolve": {"axis": {"y": "independent"}},
          "layer": [
            {
              "data": {"name": "phosphorus"},
              "transform": [{"filter": "datum.region === 'Martinez Creek'"}],
              "encoding": {"x": {"field": "station", "type": "nominal", "sort": null, "scale": {"paddingInner": 0, "paddingOuter": 0.1}, "axis": {"title": null, "labelAngle": -90, "grid": true, "bandPosition": 0.5, "labelPadding": 4}}},
              "layer": [
                {"mark": {"type": "rule", "color": "#2b2b2b", "strokeWidth": 1.2},
                 "encoding": {"y": {"field": "min", "type": "quantitative", "scale": {"domain": [-0.15, 4.15], "nice": false, "zero": false},
                   "axis": {"values": [0, 1, 2, 3, 4], "tickCount": 20, "labels": false, "title": null}},
                   "y2": {"field": "max"}}},
                {"mark": {"type": "bar", "width": {"band": 0.75}, "fill": "#1E90FF", "stroke": "#2b2b2b", "strokeWidth": 1.4},
                 "encoding": {"y": {"field": "q1", "type": "quantitative", "scale": {"domain": [-0.15, 4.15], "nice": false, "zero": false}}, "y2": {"field": "q3"}}},
                {"mark": {"type": "bar", "width": {"band": 0.75}, "fill": "#1a1a1a", "stroke": "#1a1a1a", "strokeWidth": 3.2},
                 "encoding": {"y": {"field": "median", "type": "quantitative", "scale": {"domain": [-0.15, 4.15], "nice": false, "zero": false}}, "y2": {"field": "median"}}}
              ]
            },
            {
              "data": {"name": "limits"},
              "transform": [{"filter": "datum.parameter === 'Total Phosphorus'"}],
              "mark": {"type": "rule", "color": "#FF1F1F", "strokeDash": [8, 7], "strokeWidth": 2.2},
              "encoding": {"y": {"field": "value", "type": "quantitative", "scale": {"domain": [-0.15, 4.15], "nice": false, "zero": false},
                "axis": {"orient": "right", "values": [0.5, 1.5, 2.5, 3.5], "tickCount": 20, "labels": false, "grid": true, "gridWidth": 0.55, "title": null}}}
            }
          ]
        },
        {"width": 60, "height": 100, "data": {"values": []}, "mark": {"type": "point", "opacity": 0}},
        {
          "width": 199, "height": 100,
          "title": {"text": "Salitrillo Creek"},
          "resolve": {"axis": {"y": "independent"}},
          "layer": [
            {
              "data": {"name": "phosphorus"},
              "transform": [{"filter": "datum.region === 'Salitrillo Creek'"}],
              "encoding": {"x": {"field": "station", "type": "nominal", "sort": null, "scale": {"paddingInner": 0, "paddingOuter": 0.1}, "axis": {"title": null, "labelAngle": -90, "grid": true, "bandPosition": 0.5, "labelPadding": 4}}},
              "layer": [
                {"mark": {"type": "rule", "color": "#2b2b2b", "strokeWidth": 1.2},
                 "encoding": {"y": {"field": "min", "type": "quantitative", "scale": {"domain": [-0.15, 4.15], "nice": false, "zero": false},
                   "axis": {"values": [0, 1, 2, 3, 4], "tickCount": 20, "labels": false, "title": null}},
                   "y2": {"field": "max"}}},
                {"mark": {"type": "bar", "width": {"band": 0.75}, "fill": "#1E90FF", "stroke": "#2b2b2b", "strokeWidth": 1.4},
                 "encoding": {"y": {"field": "q1", "type": "quantitative", "scale": {"domain": [-0.15, 4.15], "nice": false, "zero": false}}, "y2": {"field": "q3"}}},
                {"mark": {"type": "bar", "width": {"band": 0.75}, "fill": "#1a1a1a", "stroke": "#1a1a1a", "strokeWidth": 3.2},
                 "encoding": {"y": {"field": "median", "type": "quantitative", "scale": {"domain": [-0.15, 4.15], "nice": false, "zero": false}}, "y2": {"field": "median"}}}
              ]
            },
            {
              "data": {"name": "limits"},
              "transform": [{"filter": "datum.parameter === 'Total Phosphorus'"}],
              "mark": {"type": "rule", "strokeDash": [8, 7], "strokeWidth": 2.2},
              "encoding": {
                "y": {"field": "value", "type": "quantitative", "scale": {"domain": [-0.15, 4.15], "nice": false, "zero": false},
                  "axis": {"orient": "right", "values": [0.5, 1.5, 2.5, 3.5], "tickCount": 20, "labels": false, "grid": true, "gridWidth": 0.55, "title": null}},
                "color": {"field": "label", "type": "nominal", "scale": {"range": ["#FF1F1F"]},
                  "legend": {"title": null, "orient": "none", "legendX": 238, "legendY": 171, "symbolType": "stroke", "symbolStrokeWidth": 2.2, "symbolDash": [8, 6], "symbolSize": 625, "labelOffset": 8}}
              }
            }
          ]
        },

        {"width": 1, "height": 166, "title": {"text": "Total Phosphorus (mg/L)", "orient": "left", "anchor": "middle", "offset": 47, "fontSize": 16, "dx": 0}, "data": {"values": []}, "mark": {"type": "point", "opacity": 0}},
        {"width": 1, "height": 166, "data": {"values": []}, "mark": {"type": "point", "opacity": 0}},
        {"width": 1, "height": 166, "data": {"values": []}, "mark": {"type": "point", "opacity": 0}},
        {"width": 1, "height": 166, "data": {"values": []}, "mark": {"type": "point", "opacity": 0}},
        {"width": 1, "height": 166, "data": {"values": []}, "mark": {"type": "point", "opacity": 0}},

        {
          "width": 199, "height": 100,
          "title": {"text": "Clifton Branch"},
          "resolve": {"axis": {"y": "independent"}},
          "layer": [
            {
              "data": {"name": "phosphorus"},
              "transform": [{"filter": "datum.region === 'Clifton Branch'"}],
              "encoding": {"x": {"field": "station", "type": "nominal", "sort": null, "scale": {"paddingInner": 0, "paddingOuter": 0.1}, "axis": {"title": null, "labelAngle": -90, "grid": true, "bandPosition": 0.5, "labelPadding": 4}}},
              "layer": [
                {"mark": {"type": "rule", "color": "#2b2b2b", "strokeWidth": 1.2},
                 "encoding": {"y": {"field": "min", "type": "quantitative", "scale": {"domain": [-0.15, 4.15], "nice": false, "zero": false},
                   "axis": {"values": [0, 1, 2, 3, 4], "tickCount": 20, "format": "d", "labelOverlap": false, "title": null}},
                   "y2": {"field": "max"}}},
                {"mark": {"type": "bar", "width": {"band": 0.75}, "fill": "#1E90FF", "stroke": "#2b2b2b", "strokeWidth": 1.4},
                 "encoding": {"y": {"field": "q1", "type": "quantitative", "scale": {"domain": [-0.15, 4.15], "nice": false, "zero": false}}, "y2": {"field": "q3"}}},
                {"mark": {"type": "bar", "width": {"band": 0.75}, "fill": "#1a1a1a", "stroke": "#1a1a1a", "strokeWidth": 3.2},
                 "encoding": {"y": {"field": "median", "type": "quantitative", "scale": {"domain": [-0.15, 4.15], "nice": false, "zero": false}}, "y2": {"field": "median"}}}
              ]
            },
            {
              "data": {"name": "limits"},
              "transform": [{"filter": "datum.parameter === 'Total Phosphorus'"}],
              "mark": {"type": "rule", "color": "#FF1F1F", "strokeDash": [8, 7], "strokeWidth": 2.2},
              "encoding": {"y": {"field": "value", "type": "quantitative", "scale": {"domain": [-0.15, 4.15], "nice": false, "zero": false},
                "axis": {"orient": "right", "values": [0.5, 1.5, 2.5, 3.5], "tickCount": 20, "labels": false, "grid": true, "gridWidth": 0.55, "title": null}}}
            }
          ]
        },
        {"width": 57, "height": 100, "data": {"values": []}, "mark": {"type": "point", "opacity": 0}},
        {
          "width": 199, "height": 100,
          "title": {"text": "Mid Cibolo"},
          "resolve": {"axis": {"y": "independent"}},
          "layer": [
            {
              "data": {"name": "phosphorus"},
              "transform": [{"filter": "datum.region === 'Mid Cibolo'"}],
              "encoding": {"x": {"field": "station", "type": "nominal", "sort": null, "scale": {"paddingInner": 0, "paddingOuter": 0.1}, "axis": {"title": "Station ID (Downstream → Upstream)", "titlePadding": 8, "labelAngle": -90, "grid": true, "bandPosition": 0.5, "labelPadding": 4}}},
              "layer": [
                {"mark": {"type": "rule", "color": "#2b2b2b", "strokeWidth": 1.2},
                 "encoding": {"y": {"field": "min", "type": "quantitative", "scale": {"domain": [-0.15, 4.15], "nice": false, "zero": false},
                   "axis": {"values": [0, 1, 2, 3, 4], "tickCount": 20, "labels": false, "title": null}},
                   "y2": {"field": "max"}}},
                {"mark": {"type": "bar", "width": {"band": 0.75}, "fill": "#1E90FF", "stroke": "#2b2b2b", "strokeWidth": 1.4},
                 "encoding": {"y": {"field": "q1", "type": "quantitative", "scale": {"domain": [-0.15, 4.15], "nice": false, "zero": false}}, "y2": {"field": "q3"}}},
                {"mark": {"type": "bar", "width": {"band": 0.75}, "fill": "#1a1a1a", "stroke": "#1a1a1a", "strokeWidth": 3.2},
                 "encoding": {"y": {"field": "median", "type": "quantitative", "scale": {"domain": [-0.15, 4.15], "nice": false, "zero": false}}, "y2": {"field": "median"}}}
              ]
            },
            {
              "data": {"name": "limits"},
              "transform": [{"filter": "datum.parameter === 'Total Phosphorus'"}],
              "mark": {"type": "rule", "color": "#FF1F1F", "strokeDash": [8, 7], "strokeWidth": 2.2},
              "encoding": {"y": {"field": "value", "type": "quantitative", "scale": {"domain": [-0.15, 4.15], "nice": false, "zero": false},
                "axis": {"orient": "right", "values": [0.5, 1.5, 2.5, 3.5], "tickCount": 20, "labels": false, "grid": true, "gridWidth": 0.55, "title": null}}}
            }
          ]
        },
        {"width": 60, "height": 100, "data": {"values": []}, "mark": {"type": "point", "opacity": 0}},
        {"width": 1, "height": 100, "data": {"values": []}, "mark": {"type": "point", "opacity": 0}},

        {"width": 1, "height": 92, "data": {"values": []}, "mark": {"type": "point", "opacity": 0}},
        {"width": 1, "height": 92, "data": {"values": []}, "mark": {"type": "point", "opacity": 0}},
        {"width": 1, "height": 92, "data": {"values": []}, "mark": {"type": "point", "opacity": 0}},
        {"width": 1, "height": 92, "data": {"values": []}, "mark": {"type": "point", "opacity": 0}},
        {"width": 1, "height": 92, "data": {"values": []}, "mark": {"type": "point", "opacity": 0}}
      ]
    }
  ],
  "config": {
    "font": "Roboto",
    "view": {"stroke": null},
    "axis": {
      "domain": false, "ticks": false, "tickSize": 0,
      "labelFont": "Roboto", "labelFontSize": 20, "labelColor": "#4d4d4d", "labelOverlap": false, "labelFlush": false,
      "gridColor": "#ebebeb", "gridWidth": 1.1,
      "titleFont": "Roboto", "titleFontSize": 16, "titleFontWeight": "normal", "titleColor": "#1a1a1a"
    },
    "axisY": {"labelPadding": 6},
    "title": {"font": "Roboto", "fontSize": 21, "fontWeight": "normal", "color": "#1a1a1a", "anchor": "start", "frame": "group", "offset": 5, "baseline": "alphabetic", "dx": 9},
    "legend": {"labelFont": "Roboto", "labelFontSize": 16, "labelColor": "#1a1a1a"}
  }
}
